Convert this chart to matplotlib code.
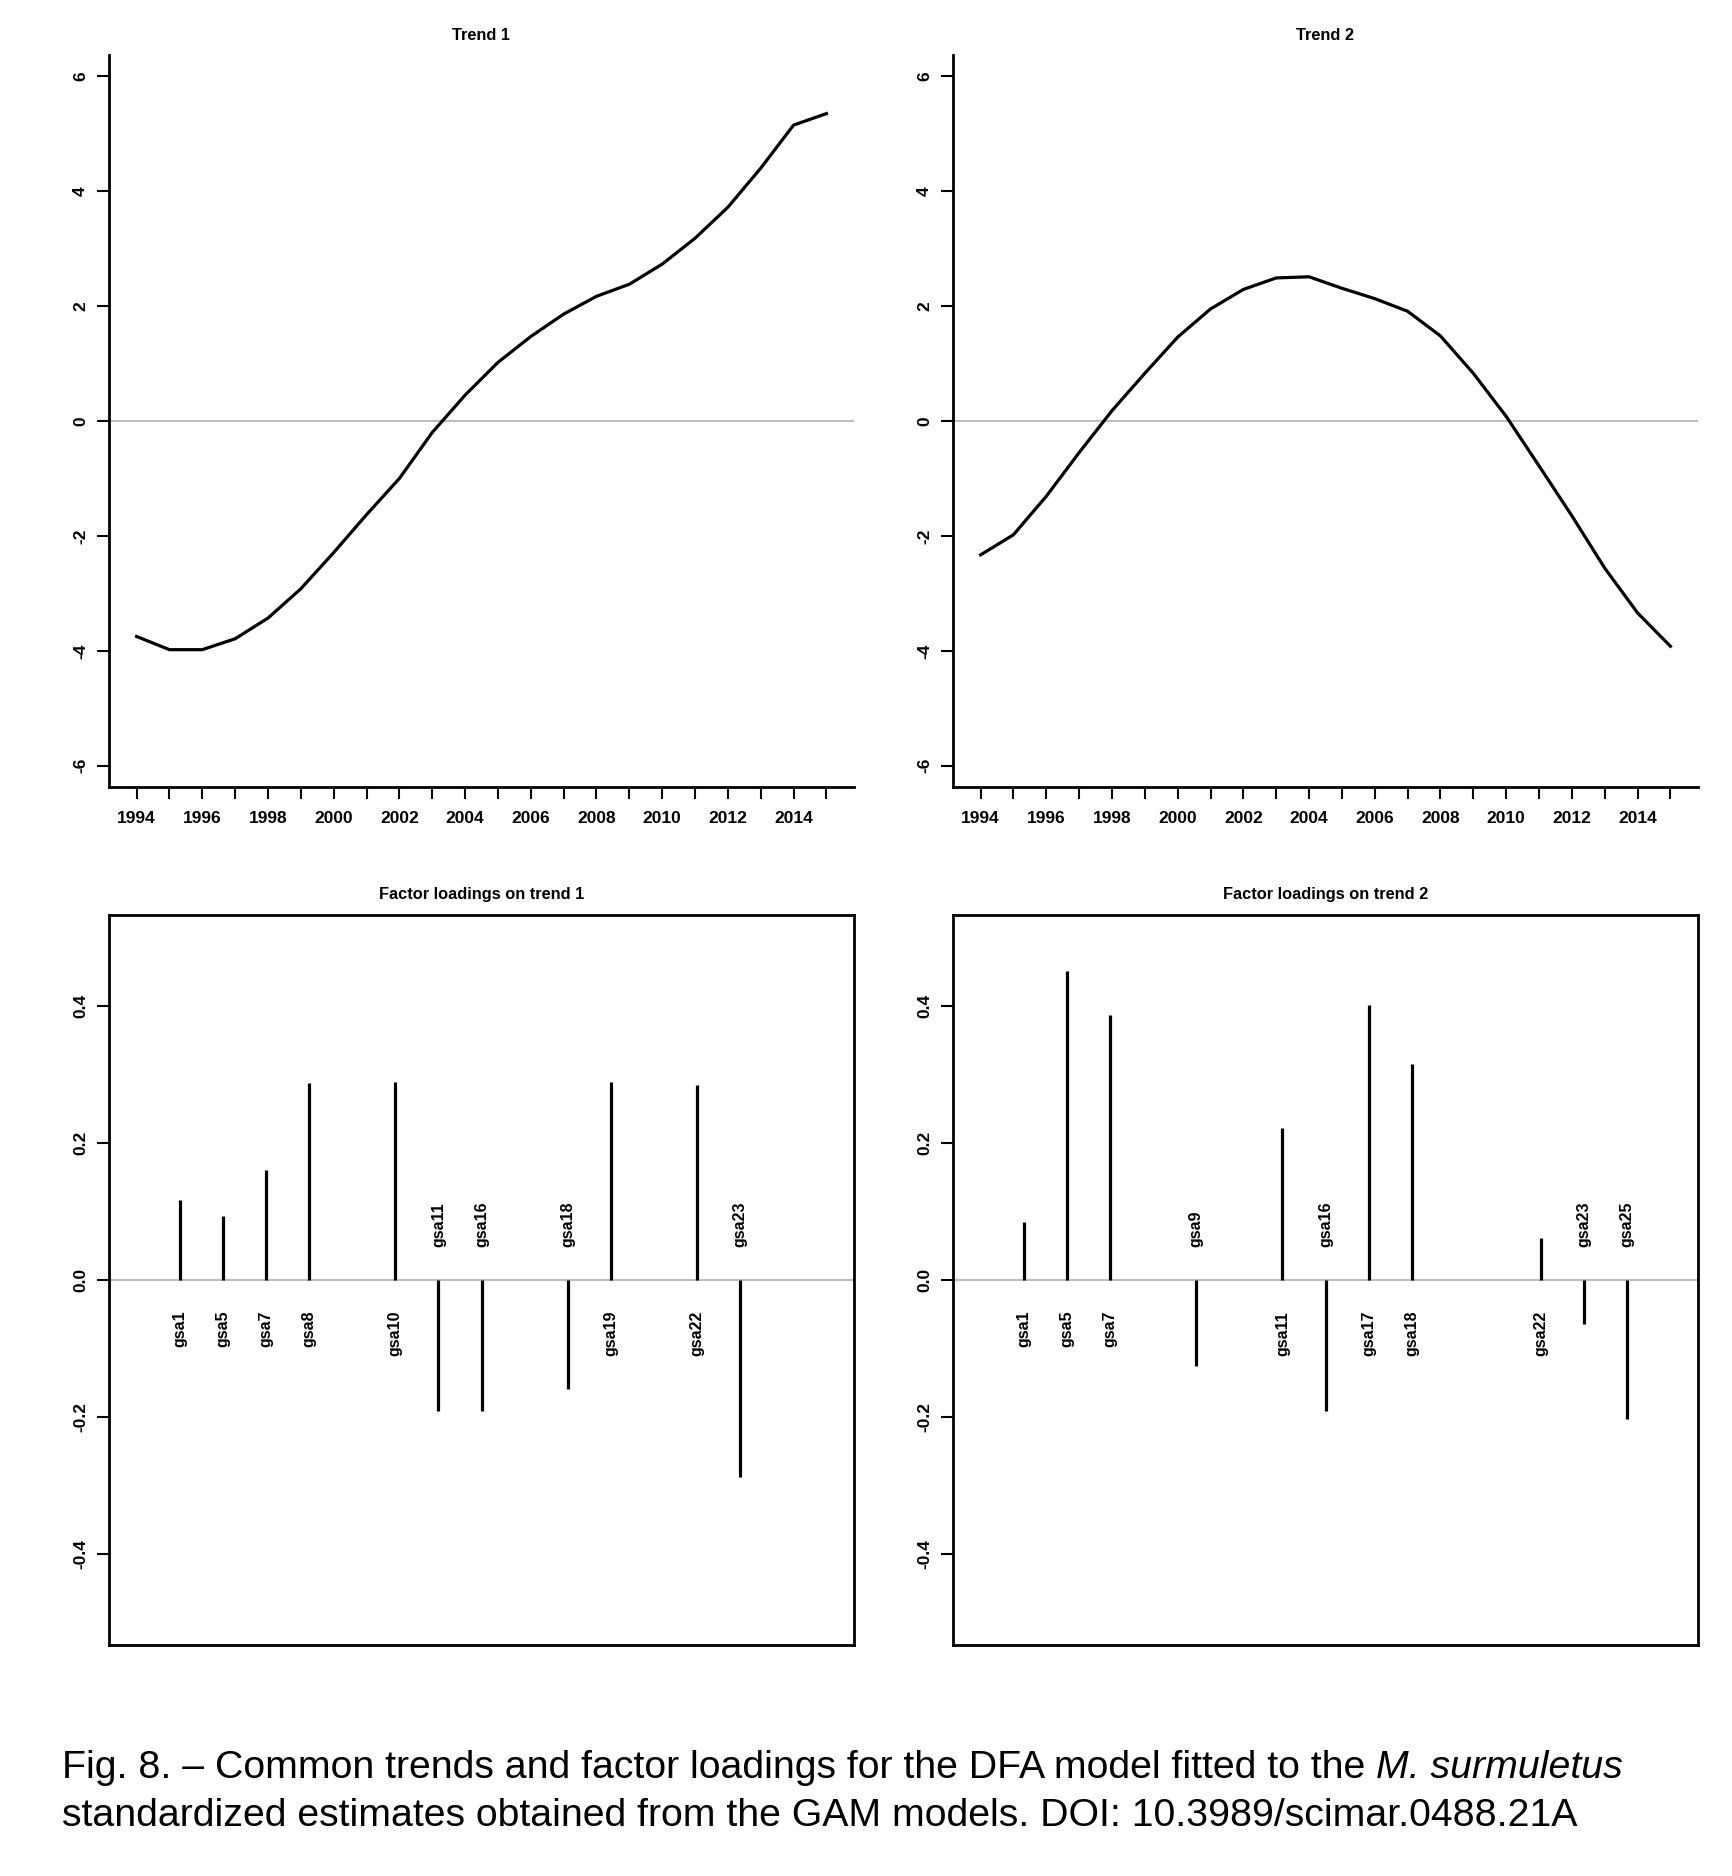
import matplotlib
matplotlib.use("Agg")
import matplotlib.pyplot as plt
import numpy as np

# common trends
years = list(range(1994, 2016))
trend1 = [-3.75, -3.98, -3.98, -3.79, -3.43, -2.92, -2.29, -1.63, -1.00, -0.20, 0.45,
          1.02, 1.47, 1.86, 2.17, 2.38, 2.73, 3.18, 3.72, 4.40, 5.15, 5.35]
trend2 = [-2.33, -1.98, -1.31, -0.55, 0.18, 0.83, 1.46, 1.95, 2.29, 2.49, 2.51,
          2.31, 2.13, 1.91, 1.48, 0.83, 0.08, -0.78, -1.65, -2.56, -3.34, -3.92]

# factor loadings, nan = not drawn (|loading| < 0.05); slot 12 never shown
series = ["gsa1", "gsa5", "gsa7", "gsa8", "gsa9", "gsa10", "gsa11", "gsa16",
          "gsa17", "gsa18", "gsa19", "", "gsa22", "gsa23", "gsa25"]
nan = np.nan
loadings1 = [0.117, 0.094, 0.161, 0.287, nan, 0.289, -0.192, -0.191,
             nan, -0.159, 0.289, nan, 0.285, -0.287, nan]
loadings2 = [0.084, 0.451, 0.387, nan, -0.126, nan, 0.222, -0.191,
             0.401, 0.315, nan, nan, 0.062, -0.064, -0.203]

W, H = 1732, 1876
FONT = ["Liberation Sans", "DejaVu Sans"]
plt.rcParams["font.family"] = FONT
plt.rcParams["axes.unicode_minus"] = False

fig = plt.figure(figsize=(W / 100, H / 100), dpi=100)


def rect(l, r, t, b):
    return [l / W, 1 - b / H, (r - l) / W, (b - t) / H]


def style_axes(ax, box):
    for s in ["top", "right"]:
        ax.spines[s].set_visible(box)
    for s in ax.spines.values():
        s.set_linewidth(2.0)
    ax.tick_params(length=8.6, width=1.5, labelsize=12.5)
    ax.tick_params(axis="x", pad=8.5)
    ax.tick_params(axis="y", pad=6.5)
    for lab in ax.get_yticklabels():
        lab.set_rotation(90)
        lab.set_va("center")
        lab.set_fontweight("bold")
    for lab in ax.get_xticklabels():
        lab.set_fontweight("bold")


lefts = [(109, 854), (953, 1698)]

# top row: trends
for (l, r), tr, name in zip(lefts, [trend1, trend2], ["Trend 1", "Trend 2"]):
    ax = fig.add_axes(rect(l, r, 55, 787))
    ax.axhline(0, color="#bebebe", lw=1.5, zorder=1)
    ax.plot(years, tr, color="black", lw=2.3, zorder=2)
    ax.set_xlim(1993.16, 2015.84)
    ax.set_ylim(-6.37, 6.37)
    ax.set_yticks([-6, -4, -2, 0, 2, 4, 6])
    ax.set_xticks(years)
    ax.set_xticklabels([str(y) if (y - 1994) % 2 == 0 else "" for y in years])
    style_axes(ax, False)
    fig.text((l + r) / 2 / W, 1 - 35 / H, name, ha="center", va="center",
             fontsize=11.8, fontweight="bold")

# bottom row: loadings
pos = np.arange(1, len(series) + 1)
for (l, r), ld, name in zip(lefts, [loadings1, loadings2],
                            ["Factor loadings on trend 1", "Factor loadings on trend 2"]):
    ax = fig.add_axes(rect(l, r, 915, 1645))
    ax.axhline(0, color="#bebebe", lw=1.5, zorder=1)
    ld = np.array(ld)
    ok = ~np.isnan(ld)
    ax.vlines(pos[ok], 0, ld[ok], color="black", lw=2.3, zorder=2)
    for p, v, s in zip(pos, ld, series):
        if np.isnan(v):
            continue
        if v > 0:
            ax.text(p, -0.045, s, rotation=90, ha="center", va="top",
                    fontsize=11.5, fontweight="bold")
        else:
            ax.text(p, 0.048, s, rotation=90, ha="center", va="bottom",
                    fontsize=11.5, fontweight="bold")
    ax.set_xlim(-0.64, 16.64)
    ax.set_ylim(-0.533, 0.533)
    ax.set_yticks([-0.4, -0.2, 0.0, 0.2, 0.4])
    ax.set_yticklabels(["-0.4", "-0.2", "0.0", "0.2", "0.4"])
    ax.set_xticks([])
    style_axes(ax, True)
    fig.text((l + r) / 2 / W, 1 - 894 / H, name, ha="center", va="center",
             fontsize=11.8, fontweight="bold")

# caption
cap_size = 28.3
t1 = fig.text(62 / W, 1 - 1778 / H,
              "Fig. 8. \u2013 Common trends and factor loadings for the DFA model fitted to the ",
              fontsize=cap_size, va="baseline", ha="left")
fig.canvas.draw()
x1 = t1.get_window_extent(fig.canvas.get_renderer()).x1
fig.text(x1 / W, 1 - 1778 / H, "M. surmuletus", fontsize=cap_size,
         style="italic", va="baseline", ha="left")
fig.text(62 / W, 1 - 1826 / H,
         "standardized estimates obtained from the GAM models. DOI: 10.3989/scimar.0488.21A",
         fontsize=cap_size, va="baseline", ha="left")

fig.savefig("out.png", dpi=100)
